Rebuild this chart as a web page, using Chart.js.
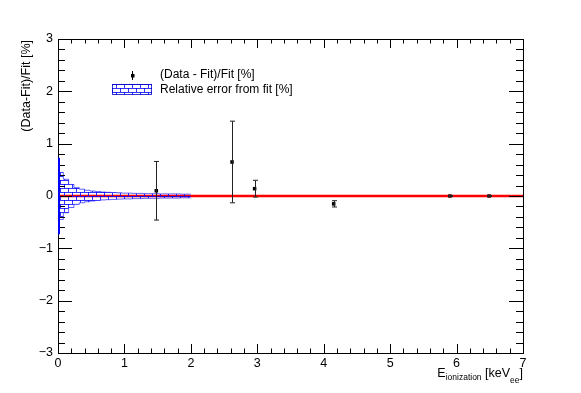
<!DOCTYPE html>
<html>
<head>
<meta charset="utf-8">
<script src="https://cdn.jsdelivr.net/npm/chart.js@4/dist/chart.umd.min.js"></script>
<style>
  html, body { margin: 0; padding: 0; background: #fff; }
  #wrap { width: 581px; height: 393px; }
</style>
</head>
<body>
<div id="wrap"><canvas id="resChart" width="581" height="393"></canvas></div>
<script>
// (Data - Fit)/Fit residuals in %, symmetric errors
const pointX = [1.48, 2.62, 2.96, 4.15, 5.90, 6.49];
const pointY = [0.10, 0.65, 0.14, -0.15, 0.0, 0.0];
const pointErr = [0.56, 0.78, 0.16, 0.06, 0.01, 0.01];

// relative error band from the fit: bin starts and half widths
const bandStart = [0, 0.01, 0.08, 0.16, 0.24, 0.32, 0.40, 0.48, 0.56, 0.64, 0.72, 0.80, 0.88, 0.96,
                   1.04, 1.12, 1.20, 1.28, 1.36, 1.44, 1.52, 1.60, 1.68, 1.76, 1.84, 1.92];
const bandErr = [0.73, 0.45, 0.32, 0.22, 0.16, 0.13, 0.11, 0.095, 0.085, 0.075, 0.07, 0.065, 0.06,
                 0.055, 0.055, 0.05, 0.05, 0.045, 0.045, 0.045, 0.04, 0.04, 0.04, 0.04, 0.035, 0.035];
const bandEnd = 2.0;

const xRange = [0, 7];
const yRange = [-3, 3];

const FONT = '"Liberation Sans", Arial, sans-serif';

function hatchPattern() {
    const c = document.createElement('canvas');
    c.width = 8; c.height = 8;
    const g = c.getContext('2d');
    g.strokeStyle = 'rgba(0,0,255,0.8)';
    g.lineWidth = 1;
    g.beginPath();
    g.moveTo(0, 0.5); g.lineTo(8, 0.5);
    g.moveTo(0, 4.5); g.lineTo(8, 4.5);
    g.moveTo(0.5, 0); g.lineTo(0.5, 4);
    g.moveTo(4.5, 4); g.lineTo(4.5, 8);
    g.stroke();
    return g.createPattern(c, 'repeat');
}

function bandLine(sign) {
    const pts = bandStart.map((x, i) => ({ x: x, y: sign * bandErr[i] }));
    pts.push({ x: bandEnd, y: sign * bandErr[bandErr.length - 1] });
    return pts;
}

function drawTicks(ctx, a, x, y) {
    ctx.strokeStyle = '#000';
    ctx.lineWidth = 1;
    ctx.beginPath();
    for (let i = 0; i <= 35; i++) {
        const v = xRange[0] + i * 0.2;
        const px = Math.round(x.getPixelForValue(v)) + 0.5;
        const len = i % 5 === 0 ? 9 : 4.5;
        ctx.moveTo(px, a.bottom); ctx.lineTo(px, a.bottom - len);
        ctx.moveTo(px, a.top); ctx.lineTo(px, a.top + len);
    }
    for (let i = 0; i <= 30; i++) {
        const v = yRange[0] + i * 0.2;
        const py = Math.round(y.getPixelForValue(v)) + 0.5;
        const len = i % 5 === 0 ? 14 : 7;
        ctx.moveTo(a.left, py); ctx.lineTo(a.left + len, py);
        ctx.moveTo(a.right, py); ctx.lineTo(a.right - len, py);
    }
    ctx.stroke();
    ctx.strokeRect(Math.round(a.left) + 0.5, Math.round(a.top) + 0.5,
        Math.round(a.right - a.left), Math.round(a.bottom - a.top));
}

const rootStyle = {
    id: 'rootStyle',
    afterDatasetsDraw(chart) {
        const { ctx, scales: { x, y } } = chart;
        ctx.save();
        // error bars of the residual points
        ctx.strokeStyle = '#222';
        ctx.lineWidth = 1;
        ctx.beginPath();
        pointX.forEach((v, i) => {
            const px = Math.round(x.getPixelForValue(v)) + 0.5;
            const top = y.getPixelForValue(pointY[i] + pointErr[i]);
            const bot = y.getPixelForValue(pointY[i] - pointErr[i]);
            ctx.moveTo(px, top); ctx.lineTo(px, bot);
            ctx.moveTo(px - 2.5, top); ctx.lineTo(px + 2.5, top);
            ctx.moveTo(px - 2.5, bot); ctx.lineTo(px + 2.5, bot);
        });
        ctx.stroke();
        ctx.restore();
    },
    afterDraw(chart) {
        const { ctx, chartArea: a, scales: { x, y } } = chart;
        ctx.save();
        drawTicks(ctx, a, x, y);

        // left edge of the error band sits on the axis line
        ctx.strokeStyle = '#0000ff';
        ctx.lineWidth = 2;
        ctx.beginPath();
        const ex = x.getPixelForValue(bandStart[0]) + 1;
        ctx.moveTo(ex, y.getPixelForValue(bandErr[0]));
        ctx.lineTo(ex, y.getPixelForValue(-bandErr[0]));
        ctx.stroke();
        ctx.lineWidth = 1;

        // y axis title, right aligned to the top of the frame
        ctx.fillStyle = '#000';
        ctx.font = '12.5px ' + FONT;
        ctx.save();
        ctx.translate(27, a.top + 1);
        ctx.rotate(-Math.PI / 2);
        ctx.textAlign = 'right';
        ctx.textBaseline = 'middle';
        ctx.fillText('(Data-Fit)/Fit [%]', 0, 0);
        ctx.restore();

        // x axis title with subscripts, right aligned to the frame
        const parts = [
            { t: 'E', f: 12.5, dy: 0 },
            { t: 'ionization', f: 8.5, dy: 3 },
            { t: ' [keV', f: 12.5, dy: 0 },
            { t: 'ee', f: 8.5, dy: 6 },
            { t: ']', f: 12.5, dy: 0 }
        ];
        let total = 0;
        parts.forEach(p => { ctx.font = p.f + 'px ' + FONT; p.w = ctx.measureText(p.t).width; total += p.w; });
        let cx = a.right - total;
        ctx.textAlign = 'left';
        ctx.textBaseline = 'alphabetic';
        parts.forEach(p => {
            ctx.font = p.f + 'px ' + FONT;
            ctx.fillText(p.t, cx, 377 + p.dy);
            cx += p.w;
        });

        // legend
        ctx.font = '12px ' + FONT;
        ctx.textBaseline = 'middle';
        ctx.fillText('(Data - Fit)/Fit [%]', 160, 75);
        ctx.fillText('Relative error from fit [%]', 160, 90);
        ctx.strokeStyle = '#000';
        ctx.beginPath();
        ctx.moveTo(132.5, 71); ctx.lineTo(132.5, 80);
        ctx.stroke();
        ctx.fillRect(131, 74, 3.5, 3.5);
        ctx.fillStyle = '#fff';
        ctx.fillRect(112, 84, 40, 11);
        ctx.fillStyle = hatchPattern();
        ctx.fillRect(112, 84, 40, 11);
        ctx.strokeStyle = 'rgba(0,0,200,0.8)';
        ctx.strokeRect(112.5, 84.5, 39, 10);
        ctx.restore();
    }
};

function makeChart() {
    const canvas = document.getElementById('resChart');
    const pattern = hatchPattern();
    const tickFont = { family: FONT, size: 12.5 };

    new Chart(canvas, {
        type: 'scatter',
        data: {
            datasets: [
                {
                    data: bandLine(1),
                    showLine: true, stepped: 'before',
                    borderColor: 'rgba(0,0,255,0.6)', borderWidth: 1,
                    pointRadius: 0, fill: false
                },
                {
                    data: bandLine(-1),
                    showLine: true, stepped: 'before',
                    borderColor: 'rgba(0,0,255,0.6)', borderWidth: 1,
                    pointRadius: 0, fill: '-1', backgroundColor: pattern
                },
                {
                    // fit reference line
                    data: [{ x: xRange[0], y: 0 }, { x: xRange[1], y: 0 }],
                    showLine: true, borderColor: '#ff0000', borderWidth: 2.5,
                    pointRadius: 0, fill: false
                },
                {
                    data: pointX.map((v, i) => ({ x: v, y: pointY[i] })),
                    showLine: false, pointStyle: 'rect', pointRadius: 2.5,
                    backgroundColor: '#000', borderColor: '#000', borderWidth: 0
                }
            ]
        },
        options: {
            responsive: false,
            animation: false,
            events: [],
            layout: { padding: { top: 39, right: 58, left: 0, bottom: 0 } },
            plugins: { legend: { display: false }, tooltip: { enabled: false } },
            scales: {
                x: {
                    type: 'linear', min: xRange[0], max: xRange[1],
                    grid: { display: false, drawTicks: false, tickLength: 0 }, border: { display: false },
                    ticks: { stepSize: 1, color: '#000', font: tickFont, padding: 3, maxRotation: 0 },
                    afterFit: s => { s.height = 40; }
                },
                y: {
                    type: 'linear', min: yRange[0], max: yRange[1],
                    grid: { display: false, drawTicks: false, tickLength: 0 }, border: { display: false },
                    ticks: {
                        stepSize: 1, color: '#000', font: tickFont, padding: 5,
                        callback: v => (v < 0 ? '\u2212' + Math.abs(v) : String(v))
                    },
                    afterFit: s => { s.width = 58; }
                }
            }
        },
        plugins: [rootStyle]
    });
}

document.addEventListener('DOMContentLoaded', makeChart);
</script>
</body>
</html>
